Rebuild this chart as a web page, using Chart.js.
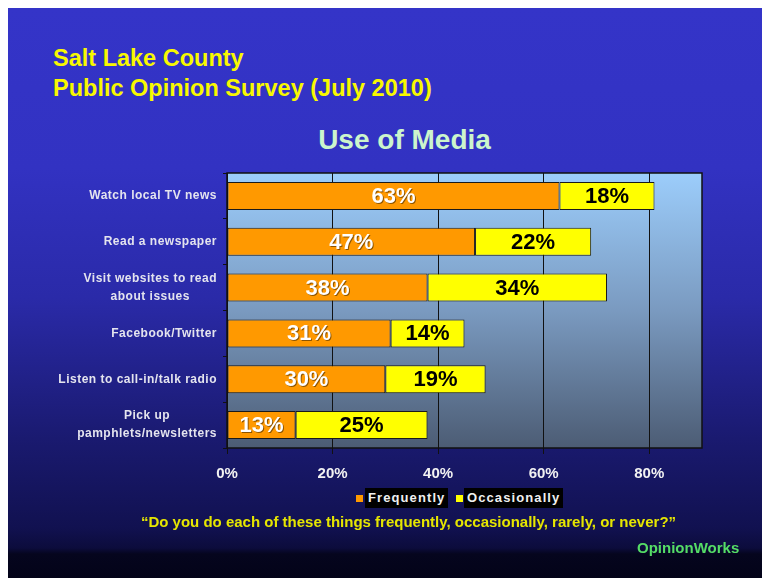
<!DOCTYPE html>
<html lang="en">
<head>
<meta charset="utf-8">
<title>Use of Media</title>
<script src="https://cdn.jsdelivr.net/npm/chart.js@4.4.0/dist/chart.umd.min.js"></script>
<style>
	html, body { margin:0; padding:0; background:#fff; }
	#slide {
		position:absolute; left:8px; top:8px; width:754px; height:570px;
		background: linear-gradient(to bottom, #3434c8 0px, #3232c2 160px, #2a2aa8 290px, #1a1a70 430px, #111150 520px, #0c0c3c 540px, #05051e 546px, #030318 570px);
	}
	.txt { position:absolute; font-family:"Liberation Sans", Arial, sans-serif; font-weight:bold; white-space:nowrap; }
	#head1, #head2 { left:53px; font-size:23.5px; line-height:23.5px; color:#f8f800; }
	#head1 { top:47px; }
	#head2 { top:77px; }
	#title { left:0; width:809px; text-align:center; top:126px; font-size:28px; line-height:28px; color:#ccf5cc; }
	#question { left:0; width:817px; text-align:center; top:514px; font-size:15px; line-height:15px; color:#e6e600; }
	#brand { left:637px; top:540px; font-size:15px; line-height:15px; color:#55dd66; }
	.sw { position:absolute; width:7px; height:7px; top:495px; }
	.lg { top:488px; height:20px; line-height:20px; font-size:13px; letter-spacing:1.1px; color:#f0f0f0; background:#000; padding:0 3px; }
	#chart { position:absolute; left:0; top:0; }
</style>
</head>
<body>
	<div id="slide"></div>
	<div class="txt" id="head1">Salt Lake County</div>
	<div class="txt" id="head2">Public Opinion Survey (July 2010)</div>
	<div class="txt" id="title">Use of Media</div>
	<canvas id="chart" width="762" height="578"></canvas>
	<div class="sw" style="left:356px;background:#ff9900;"></div>
	<div class="txt lg" style="left:365px;">Frequently</div>
	<div class="sw" style="left:456px;background:#ffff00;"></div>
	<div class="txt lg" style="left:464px;">Occasionally</div>
	<div class="txt" id="question">“Do you do each of these things frequently, occasionally, rarely, or never?”</div>
	<div class="txt" id="brand">OpinionWorks</div>
<script>
const categories = [
	['Watch local TV news'],
	['Read a newspaper'],
	['Visit websites to read', 'about issues'],
	['Facebook/Twitter'],
	['Listen to call-in/talk radio'],
	['Pick up', 'pamphlets/newsletters']
];
const seriesNames = ['Frequently', 'Occasionally'];
const frequently = [63, 47, 38, 31, 30, 13];
const occasionally = [18, 22, 34, 14, 19, 25];
const tickValues = [0, 20, 40, 60, 80];
const tickLabels = ['0%', '20%', '40%', '60%', '80%'];

const FONT = '"Liberation Sans", Arial, sans-serif';

// plot area gradient + frame
const plotBackground = {
	id: 'plotBackground',
	beforeDraw(chart) {
		const {ctx, chartArea: a} = chart;
		const g = ctx.createLinearGradient(0, a.top, 0, a.bottom);
		g.addColorStop(0, '#9ccdfb');
		g.addColorStop(0.5, '#7a9ac0');
		g.addColorStop(1, '#4c5c74');
		ctx.save();
		ctx.fillStyle = g;
		ctx.fillRect(a.left, a.top, a.right - a.left, a.bottom - a.top);
		ctx.restore();
	},
	afterDraw(chart) {
		const {ctx, chartArea: a} = chart;
		ctx.save();
		ctx.strokeStyle = '#111';
		ctx.lineWidth = 1.5;
		ctx.strokeRect(a.left, a.top, a.right - a.left, a.bottom - a.top);
		ctx.restore();
	}
};

// category labels: block right aligned, lines centred inside the block
const categoryLabels = {
	id: 'categoryLabels',
	afterDraw(chart) {
		const {ctx} = chart;
		const y = chart.scales.y;
		ctx.save();
		ctx.font = 'bold 12px ' + FONT;
		ctx.letterSpacing = '0.5px';
		ctx.fillStyle = '#e4e4ee';
		ctx.textAlign = 'center';
		ctx.textBaseline = 'middle';
		const right = 217, lh = 18;
		categories.forEach((lines, i) => {
			const cy = y.getPixelForValue(i);
			const w = Math.max(...lines.map(l => ctx.measureText(l).width));
			lines.forEach((l, k) => {
				ctx.fillText(l, right - w / 2, cy + (k - (lines.length - 1) / 2) * lh);
			});
		});
		ctx.restore();
	}
};

// value labels in the middle of each bar segment
const valueLabels = {
	id: 'valueLabels',
	afterDatasetsDraw(chart) {
		const {ctx} = chart;
		ctx.save();
		ctx.font = 'bold 22px ' + FONT;
		ctx.textAlign = 'center';
		ctx.textBaseline = 'middle';
		chart.data.datasets.forEach((ds, di) => {
			const meta = chart.getDatasetMeta(di);
			meta.data.forEach((el, i) => {
				const x = (el.x + el.base) / 2;
				if (di === 0) {
					ctx.shadowColor = 'rgba(0,0,0,0.45)';
					ctx.shadowOffsetX = 1;
					ctx.shadowOffsetY = 1;
					ctx.fillStyle = '#ffffff';
				} else {
					ctx.shadowColor = 'transparent';
					ctx.fillStyle = '#000000';
				}
				ctx.fillText(ds.data[i] + '%', x, el.y + 1);
			});
		});
		ctx.restore();
	}
};

new Chart(document.getElementById('chart'), {
	type: 'bar',
	data: {
		labels: categories.map(c => c.join(' ')),
		datasets: [
			{
				label: seriesNames[0],
				data: frequently,
				backgroundColor: '#ff9900',
				borderColor: '#1a1a1a',
				borderWidth: 1,
				borderSkipped: false
			},
			{
				label: seriesNames[1],
				data: occasionally,
				backgroundColor: '#ffff00',
				borderColor: '#1a1a1a',
				borderWidth: 1,
				borderSkipped: false
			}
		]
	},
	options: {
		indexAxis: 'y',
		responsive: false,
		animation: false,
		devicePixelRatio: 1,
		categoryPercentage: 1,
		barPercentage: 0.61,
		layout: { padding: { left: 0, right: 60, top: 173, bottom: 90 } },
		plugins: {
			legend: { display: false },
			tooltip: { enabled: false },
			title: { display: false }
		},
		scales: {
			x: {
				stacked: true,
				min: 0,
				max: 90,
				afterBuildTicks(s) { s.ticks = tickValues.map(v => ({value: v})); },
				afterFit(s) { s.height = 40; },
				grid: { color: '#111', lineWidth: 1, tickLength: 6, drawTicks: true },
				border: { display: false },
				ticks: {
					padding: 11,
					color: '#f2f2f2',
					font: { family: FONT, size: 15, weight: 'bold' },
					callback: (v) => tickLabels[tickValues.indexOf(v)]
				}
			},
			y: {
				stacked: true,
				afterFit(s) { s.width = 227; },
				grid: { drawOnChartArea: false, color: '#111', tickLength: 4, offset: true },
				border: { display: false },
				ticks: { display: false }
			}
		}
	},
	plugins: [plotBackground, categoryLabels, valueLabels]
});
</script>
</body>
</html>
